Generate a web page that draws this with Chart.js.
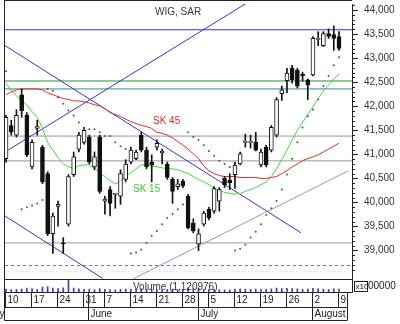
<!DOCTYPE html>
<html>
<head>
<meta charset="utf-8">
<script src="https://cdn.jsdelivr.net/npm/chart.js@4.4.0/dist/chart.umd.min.js"></script>
<style>
  html, body { margin: 0; padding: 0; background: #fff; }
</style>
</head>
<body>
<canvas id="c" width="400" height="324"></canvas>
<script>
// daily candles, index 0 = 10 May, last = 9 Aug
const openP = [40910,41600,41400,42240,41810,40740,41540,41150,40600,39350, 39920,39150,39550,40580,41110,41250,41360,40740,41360,40030, 40270,40170,40130,40480,40840,40910,41400,41090,40840,41150, 41030,40800,40480,40330,40440,40130,39570,39140,39550,39860, 39820,40030,40500,40460,40580,40800,41250,41250,41250,40780, 41150,41090,41400,42260,42530,42790,42750,42670,42550,42650, 43390,43260,43510,43490,43450];
const highP = [41810,41710,41930,42360,41870,41300,41710,41190,40640,39780, 40030,39270,40580,41050,41460,41560,41400,41050,41400,40130, 40330,40190,40680,40890,41150,41090,41460,41150,40990,41300, 41110,40840,40520,40480,40480,40170,39660,39450,39820,39900, 40330,40310,40540,40600,40840,41050,41420,41400,41460,41110, 41190,41600,42180,42420,42790,42850,42790,42710,42570,43450, 43550,43550,43610,43670,43550];
const lowP = [40840,41400,41360,41770,40950,40700,41400,40390,39310,38940, 39510,38940,39510,40540,41050,41210,40800,40680,40190,39760, 39720,39880,39960,40430,40800,40890,41050,40700,40430,41090, 40800,40480,39980,40270,40310,39450,39370,39000,39510,39640, 39780,39820,40310,40270,40290,40780,41150,41130,41070,40740, 40740,41050,41360,42120,42280,42480,42380,42520,42140,42630, 43260,43240,43410,43160,43160];
const closeP = [41770,41460,41810,41910,40990,41250,41580,40430,39350,39720, 39960,39140,40540,40950,41400,41500,40840,40950,40230,40070, 39980,40190,40600,40800,41090,41050,41090,40740,40780,41230, 41070,40520,40230,40390,40350,39470,39410,39350,39780,39680, 40290,40270,40370,40410,40780,41010,41270,41260,41090,41050, 40780,41560,42140,42340,42690,42550,42420,42630,42440,43410, 43410,43510,43450,43410,43200];
const sar = [42730,null,null,39860,39900,39940,39980,40050,42360,42320, 42180,42050,41910,41810,41660,41540,41520,41520,41460,41380, 41380,41250,41170,41110,38940,38960,39020,39160,39310,39410, 39550,39680,39760,39860,39960,41460,41360,41300,41190,41070, 40970,40870,40800,40740,39000,39040,39120,39270,39390,39550, 39740,39880,40030,40270,40580,40910,41250,41560,41790,41930, 42140,42420,42630,42850,43020];
const sk15 = [42480,42320,42220,42110,42030,41890,41770,41540,41250,41090, 40930,40800,40740,40720,40760,40780,40780,40720,40620,40540, 40450,40390,40430,40540,40620,40700,40780,40780,40760,40740, 40720,40700,40700,40680,40640,40600,40540,40480,40430,40370, 40310,40250,40210,40190,40170,40190,40230,40270,40310,40370, 40430,40540,40700,40890,41090,41300,41500,41660,41830,41990, 42160,42320,42440,42570,42670];
const sk45 = [42240,42300,42340,42360,42360,42360,42360,42340,42280,42240, 42200,42160,42140,42110,42110,42090,42070,42030,42010,41950, 41870,41830,41790,41730,41680,41640,41600,41580,41540,41460, 41440,41400,41340,41270,41190,41110,41010,40910,40760,40660, 40600,40560,40540,40540,40540,40520,40520,40520,40520,40500, 40500,40520,40540,40600,40660,40740,40800,40870,40910,40950, 40990,41050,41110,41170,41230];
const volume = [1.1,0.9,1.0,1.1,1.5,1.3,1.0,1.9,2.0,1.5, 1.3,1.6,4.6,1.5,1.2,1.0,1.1,0.9,1.3,1.0, 0.9,0.8,1.0,1.1,1.0,0.9,1.2,1.0,0.8,0.9, 0.8,1.0,1.1,0.8,0.7,1.5,1.3,1.6,1.1,1.0, 1.0,0.9,0.8,0.8,1.1,1.2,1.1,1.0,1.1,0.9, 1.0,1.2,1.5,1.3,1.4,1.3,1.2,1.0,1.1,1.4, 1.2,1.1,1.0,1.2,1.12];

const weekTicks = [0,5,10,15,19,24,29,34,39,44,49,54,59,64];
const weekLabels = ['10','17','24','31','7','14','21','28','5','12','19','26','2','9'];
const monthTicks = [16,37,59];
const monthLabels = ['June','July','August'];
const priceTicks = [39000,39500,40000,40500,41000,41500,42000,42500,43000,43500,44000];

// horizontal levels and trend lines, [day index, value]
const levelBlue = 43590;
const levelGreen = 42525;
const levelTeal = 42360;
const levelsGray = [41380, 40865, 39160];
const levelDashed = 38690;
const levelDotted = 38560;
const trendDown = [[-0.2, 43260], [56.7, 39370]];
const trendUp = [[-0.2, 41050], [46.2, 44140]];
const trendLow = [[-0.2, 39720], [18.6, 38420]];
const trendGray = [[24.4, 38410], [65.8, 40660]];

const FONT = '"Liberation Sans", Arial, sans-serif';
const X_MIN = -0.2, X_MAX = 66.5;
const idx = openP.map((_, i) => i);
const up = idx.map(i => closeP[i] >= openP[i]);

function hline(v, color, dash, order) {
  return { type: 'line', data: [{x: X_MIN, y: v}, {x: X_MAX, y: v}], borderColor: color,
    borderWidth: 1, borderDash: dash || [], pointRadius: 0, order: order || 20 };
}
function seg(pts, color, order) {
  return { type: 'line', data: pts.map(p => ({x: p[0], y: p[1]})), borderColor: color,
    borderWidth: 1, pointRadius: 0, order: order || 18 };
}

const decor = {
  id: 'decor',
  afterDraw(chart) {
    const { ctx, chartArea: a, scales: { x, y } } = chart;
    const volTop = Math.round(a.bottom - 13) + 0.5;
    const rowTop = Math.round(a.bottom) + 0.5;
    const rowMid = rowTop + 15;
    const rowBot = rowTop + 28;
    const rightEnd = 347;
    ctx.save();
    ctx.strokeStyle = '#222';
    ctx.lineWidth = 1;
    ctx.beginPath();
    // frame
    ctx.moveTo(4.5, 0.5); ctx.lineTo(a.right, 0.5);
    ctx.moveTo(4.5, 0); ctx.lineTo(4.5, rowBot);
    ctx.moveTo(4.5, volTop); ctx.lineTo(a.right, volTop);
    ctx.moveTo(4.5, rowTop); ctx.lineTo(a.right, rowTop);
    ctx.moveTo(4.5, rowMid); ctx.lineTo(rightEnd, rowMid);
    ctx.moveTo(4.5, rowBot); ctx.lineTo(rightEnd, rowBot);
    ctx.moveTo(rightEnd + 0.5, rowTop); ctx.lineTo(rightEnd + 0.5, rowBot);
    // minor ticks
    for (let v = 38500; v <= 44100; v += 100) {
      if (v % 500 === 0) continue;
      const py = Math.round(y.getPixelForValue(v)) + 0.5;
      ctx.moveTo(a.right, py); ctx.lineTo(a.right + 3, py);
    }
    ctx.stroke();

    ctx.fillStyle = '#222';
    ctx.font = '10px ' + FONT;
    ctx.textBaseline = 'middle';
    ctx.textAlign = 'left';
    ctx.beginPath();
    weekTicks.forEach((t, k) => {
      const px = Math.round(x.getPixelForValue(t)) - 0.5;
      ctx.moveTo(px, rowTop); ctx.lineTo(px, rowMid);
      ctx.fillText(weekLabels[k], px + 2, rowTop + 7.5);
    });
    monthTicks.forEach((t, k) => {
      const px = Math.round(x.getPixelForValue(t)) - 0.5;
      ctx.moveTo(px, rowTop); ctx.lineTo(px, rowBot);
      ctx.fillText(monthLabels[k], px + 2, rowMid + 7);
    });
    ctx.stroke();
    ctx.textAlign = 'right';
    ctx.fillText('May', 4.5, rowMid + 7);
    ctx.textAlign = 'left';

    // texts
    ctx.fillStyle = '#333';
    ctx.fillText('WIG, SAR', 155, 12);
    ctx.fillText('Volume (1,120976)', 133, volTop + 8);
    ctx.fillStyle = '#e02828';
    ctx.fillText('SK 45', 153, 121);
    ctx.fillStyle = '#3cc83c';
    ctx.fillText('SK 15', 133, 189);

    // volume axis label
    ctx.fillStyle = '#222';
    ctx.fillText('00000', a.right + 16, volTop + 7);
    ctx.fillStyle = '#fff';
    ctx.fillRect(a.right + 2.5, volTop + 2, 13, 10);
    ctx.strokeRect(a.right + 2.5, volTop + 2, 13, 10);
    ctx.fillStyle = '#222';
    ctx.font = '8px ' + FONT;
    ctx.fillText('x10', a.right + 3.5, volTop + 7.5);
    ctx.restore();
  }
};

new Chart(document.getElementById('c'), {
  data: {
    datasets: [
      hline(levelBlue, '#3434c8'),
      hline(levelGreen, '#2f8f3a'),
      hline(levelTeal, '#2f8f8a'),
      ...levelsGray.map(v => hline(v, '#9a9a9a')),
      hline(levelDashed, '#6a6ad8', [3, 3]),
      hline(levelDotted, '#c8c8c8', [1, 2]),
      seg(trendDown, '#3434c8'),
      seg(trendUp, '#3434c8'),
      seg(trendLow, '#3434c8'),
      seg(trendGray, '#9a9a9a'),
      { type: 'bar', yAxisID: 'yv', data: idx.map(i => ({x: i, y: volume[i]})),
        backgroundColor: '#3c3cc8', barThickness: 1, grouped: false, order: 16 },
      { type: 'line', data: idx.map(i => ({x: i, y: sk45[i]})), borderColor: '#e02828',
        borderWidth: 1, pointRadius: 0, order: 12 },
      { type: 'line', data: idx.map(i => ({x: i, y: sk15[i]})), borderColor: '#3cd83c',
        borderWidth: 1, pointRadius: 0, order: 12 },
      { type: 'bar', data: idx.map(i => ({x: i, y: [lowP[i], highP[i]]})),
        backgroundColor: '#111', barThickness: 1, grouped: false, order: 5 },
      { type: 'bar', data: idx.map(i => ({x: i, y: [openP[i], closeP[i]]})),
        backgroundColor: c => up[c.dataIndex] ? '#fff' : '#111', borderColor: '#111',
        borderWidth: 1, borderSkipped: false, barThickness: 4, minBarLength: 1,
        grouped: false, order: 4 },
      { type: 'line', data: idx.map(i => ({x: i, y: sar[i]})), showLine: false,
        pointRadius: 1, pointBorderWidth: 0, pointBackgroundColor: '#555', order: 2 }
    ]
  },
  options: {
    responsive: false,
    animation: false,
    devicePixelRatio: 1,
    layout: { padding: { left: 5, top: 0, right: 0, bottom: 32 } },
    plugins: { legend: { display: false }, tooltip: { enabled: false } },
    scales: {
      x: { type: 'linear', min: X_MIN, max: X_MAX, offset: false, display: false },
      y: {
        position: 'right', min: 38140, max: 44125,
        afterBuildTicks: s => { s.ticks = priceTicks.map(v => ({ value: v })); },
        afterFit: s => { s.width = 48; s.paddingTop = 0; s.paddingBottom = 0; },
        ticks: { color: '#333', font: { family: FONT, size: 10 }, padding: 6 },
        grid: { drawOnChartArea: false, tickLength: 6, tickColor: '#222' },
        border: { color: '#222' }
      },
      yv: { display: false, min: 0, max: 110 }
    }
  },
  plugins: [decor]
});
</script>
</body>
</html>
